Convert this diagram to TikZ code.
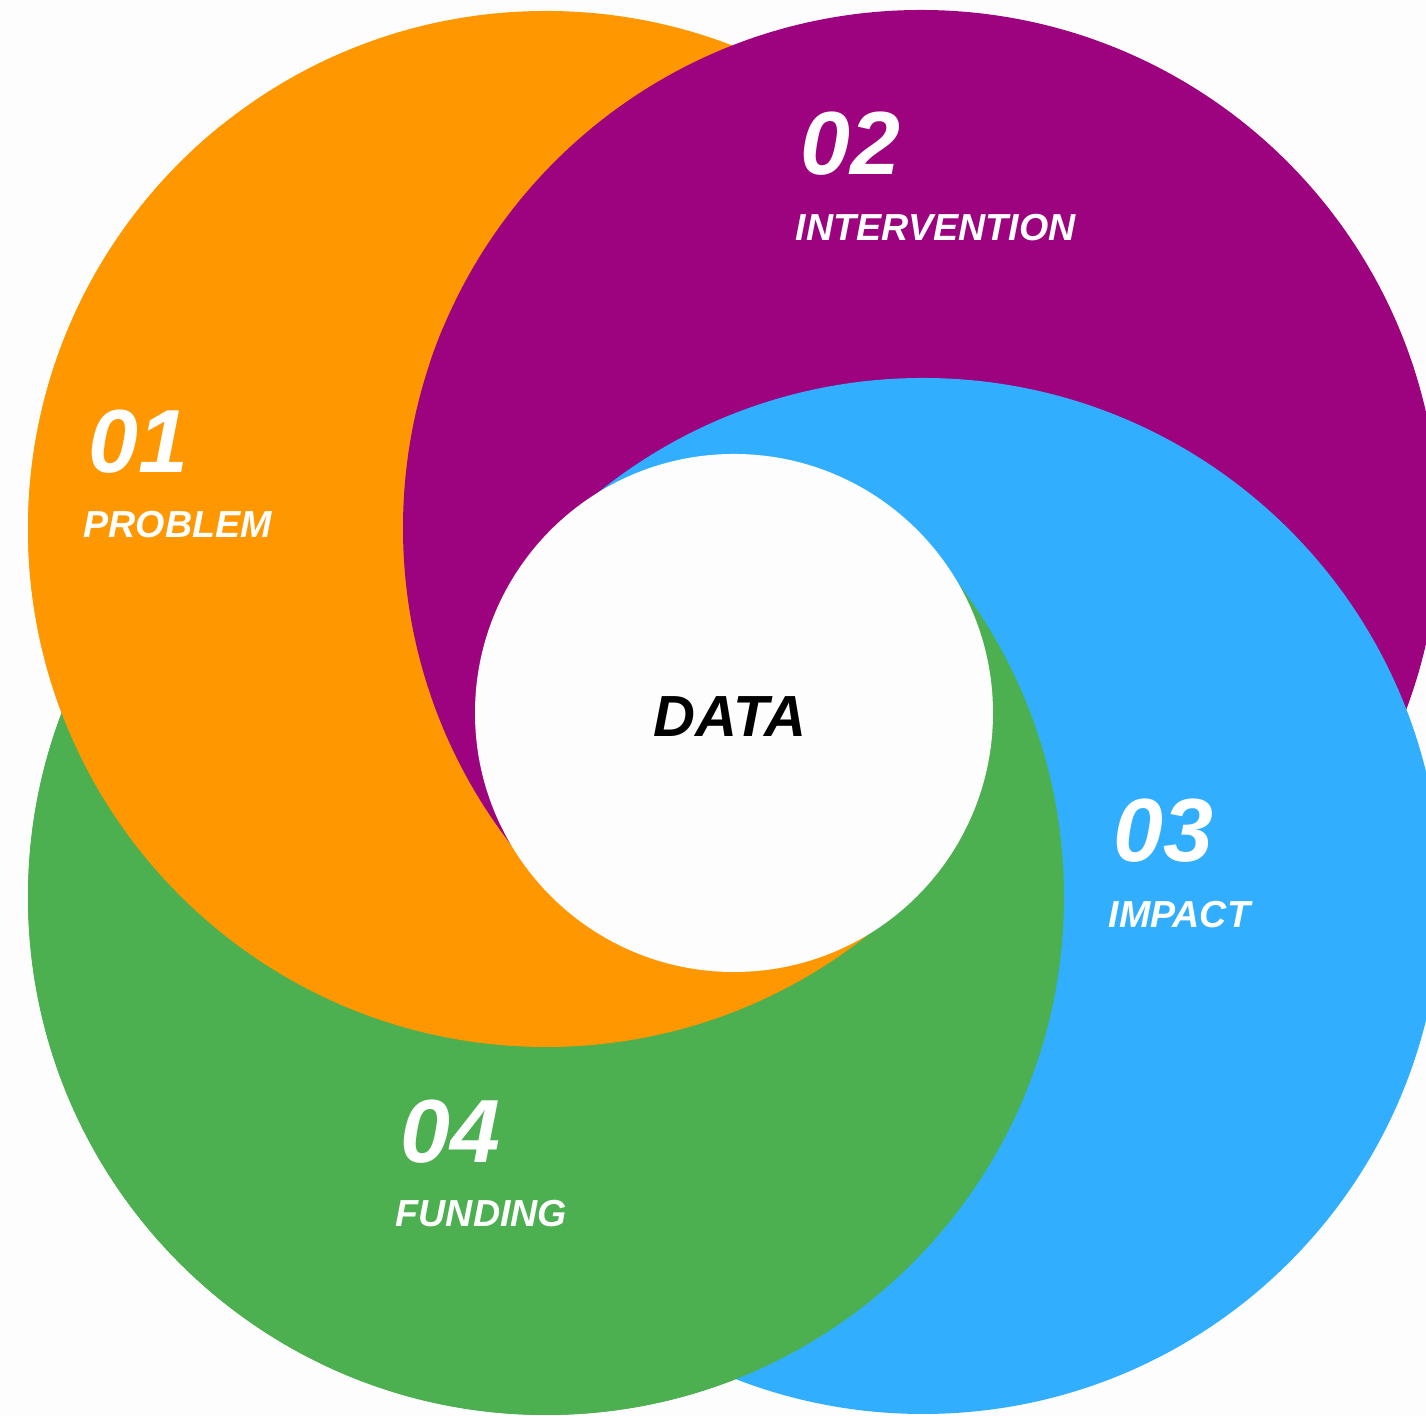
\documentclass[tikz,border=0pt]{standalone}
\usepackage{fontspec}
\setmainfont{Liberation Sans}
\definecolor{paper}{HTML}{FDFDFD}
\definecolor{corange}{HTML}{FF9800}
\definecolor{cpurple}{HTML}{9D027F}
\definecolor{cblue}{HTML}{31AFFE}
\definecolor{cgreen}{HTML}{4CAF50}
\begin{document}
\begin{tikzpicture}[x=0.01cm,y=0.01cm,
  num/.style={text=white,font=\fontsize{25.5}{27}\selectfont\bfseries\itshape,inner sep=0pt,anchor=base west},
  tag/.style={text=white,font=\fontsize{10.7}{13}\selectfont\bfseries\itshape,inner sep=0pt,anchor=base west}]
\fill[paper] (0,0) rectangle (1426,1416);
\clip (0,0) rectangle (1426,1416);

% centres of the four rings and of the hub
\coordinate (O) at (546,887);
\coordinate (P) at (921,888);
\coordinate (B) at (923,520);
\coordinate (G) at (546,519);
\coordinate (C) at (734,703);

\newcommand\ringO{\fill[corange] (O) circle[radius=518];}
\newcommand\ringP{\fill[cpurple] (P) circle[radius=518];}
\newcommand\ringB{\fill[cblue] (B) circle[radius=518];}
\newcommand\ringG{\fill[cgreen] (G) circle[radius=518];}

% base stack
\ringG \ringO \ringP \ringB
% pinwheel: lift rings back on top around the hub;
% every cut edge lies under the hub or under the same colour
\begin{scope}
  \clip (C) -- +(131:3000) -- +(180:3000) -- +(270:3000) -- +(0:3000) -- +(45:3000) -- cycle;
  \ringG
\end{scope}
\begin{scope}
  \clip (C) -- +(131:3000) -- +(180:3000) -- +(270:3000) -- +(315:3000) -- cycle;
  \ringO
\end{scope}
\begin{scope}
  \clip (C) -- +(127:3000) -- +(175:3000) -- +(225:3000) -- cycle;
  \ringP
\end{scope}

% hub
\fill[paper] (C) circle[radius=259];
\node[font=\fontsize{16.5}{18}\selectfont\bfseries\itshape,inner sep=0pt,anchor=base] (data) at (730,679) {DATA};

% labels
\node[num] (n1) at (88,943) {01};
\node[tag] (t1) at (83,878) {PROBLEM};
\node[num] (n2) at (800,1241) {02};
\node[tag] (t2) at (795,1175) {INTERVENTION};
\node[num] (n3) at (1113,554) {03};
\node[tag] (t3) at (1108,488) {IMPACT};
\node[num] (n4) at (400,253) {04};
\node[tag] (t4) at (395,189) {FUNDING};
\end{tikzpicture}
\end{document}
